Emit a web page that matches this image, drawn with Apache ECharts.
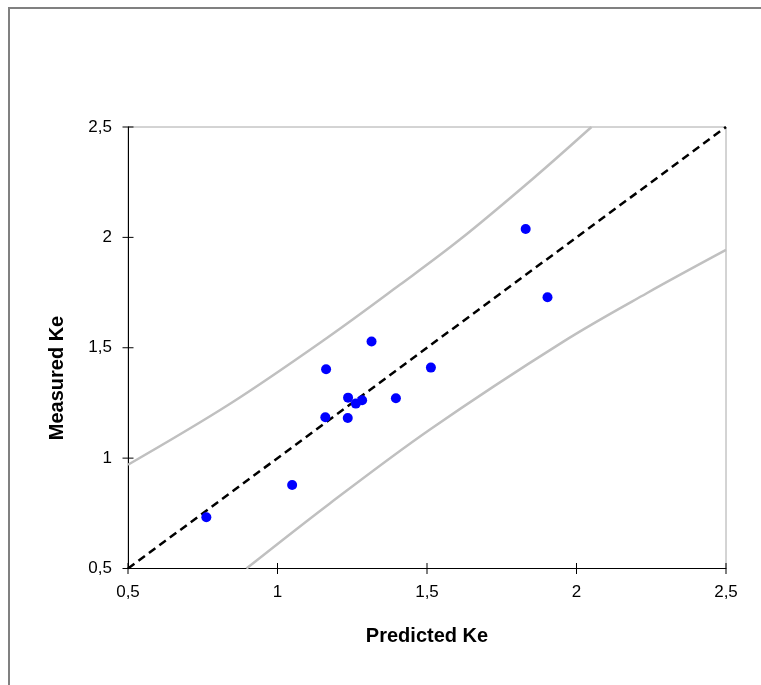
<!DOCTYPE html>
<html>
<head>
<meta charset="utf-8">
<title>Predicted vs measured Ke</title>
<script src="https://cdn.jsdelivr.net/npm/echarts@6/dist/echarts.min.js"></script>
<style>
  html, body { margin: 0; padding: 0; background: #ffffff; }
  #chart { width: 761px; height: 685px; }
</style>
</head>
<body>
<div id="chart"></div>
<script>
// Observations: predicted Ke (x) against measured Ke (y)
const predictedKe = [0.762, 1.049, 1.160, 1.1625, 1.235, 1.236, 1.262, 1.283, 1.3145, 1.396, 1.513, 1.830, 1.903];
const measuredKe  = [0.732, 0.878, 1.185, 1.403, 1.182, 1.274, 1.247, 1.262, 1.528, 1.271, 1.410, 2.038, 1.729];

// Line of equality
const equalityX = [0.5, 2.5];
const equalityY = [0.5, 2.5];

// Upper and lower prediction limits
const upperX = [0.5, 0.84, 1.164, 1.409, 1.61, 1.856, 2.05];
const upperY = [0.97, 1.245, 1.543, 1.785, 1.99, 2.268, 2.5];
const lowerX = [0.896, 1.175, 1.51, 1.956, 2.235, 2.5];
const lowerY = [0.5, 0.795, 1.13, 1.528, 1.747, 1.943];

// Axis ticks and their labels (decimal comma)
const tickValues = [0.5, 1, 1.5, 2, 2.5];
const tickLabels = ['0,5', '1', '1,5', '2', '2,5'];

const axisTitleX = 'Predicted Ke';
const axisTitleY = 'Measured Ke';

const pairs = (xs, ys) => xs.map((x, i) => [x, ys[i]]);
const fmt = v => {
  const i = tickValues.findIndex(t => Math.abs(t - v) < 1e-9);
  return i >= 0 ? tickLabels[i] : '';
};

const FONT = '"Liberation Sans", Arial, sans-serif';
const LABEL_SIZE = 17;
const TITLE_SIZE = 20;
const axisMin = tickValues[0], axisMax = tickValues[tickValues.length - 1], step = 0.5;

const baseAxis = (extra) => Object.assign({
  type: 'value', min: axisMin, max: axisMax, interval: step,
  axisLine: { show: true, onZero: false, lineStyle: { color: '#000', width: 1 } },
  axisTick: { show: false },
  splitLine: { show: false }
}, extra);

// Cross-style tick marks: short strokes centred on each axis line at every tick value
const xTickMarks = tickValues.map(v => [v, axisMin]);
const yTickMarks = tickValues.map(v => [axisMin, v]);

const chart = echarts.init(document.getElementById('chart'), null, { renderer: 'canvas' });

chart.setOption({
  backgroundColor: '#ffffff',
  animation: false,
  tooltip: { show: false },
  grid: {
    left: 128, top: 127, width: 598, height: 441.5,
    show: true, borderColor: '#a8a8a8', borderWidth: 1, backgroundColor: 'transparent'
  },
  xAxis: baseAxis({
    position: 'bottom',
    axisLabel: { formatter: fmt, color: '#000', fontFamily: FONT, fontSize: LABEL_SIZE, margin: 15 },
    name: axisTitleX, nameLocation: 'middle', nameGap: 58,
    nameTextStyle: { color: '#000', fontFamily: FONT, fontSize: TITLE_SIZE, fontWeight: 'bold' }
  }),
  yAxis: baseAxis({
    position: 'left',
    axisLabel: { formatter: fmt, color: '#000', fontFamily: FONT, fontSize: LABEL_SIZE, margin: 16 }
  }),
  graphic: [
    {
      type: 'rect', silent: true, z: -1,
      shape: { x: 9, y: 8, width: 800, height: 720 },
      style: { fill: 'none', stroke: '#808080', lineWidth: 2 }
    },
    {
      type: 'text', silent: true,
      x: 57, y: 378, rotation: Math.PI / 2,
      style: {
        text: axisTitleY, fill: '#000', font: 'bold ' + TITLE_SIZE + 'px ' + FONT,
        align: 'center', verticalAlign: 'middle'
      }
    }
  ],
  series: [
    {
      name: 'Upper limit', type: 'line', data: pairs(upperX, upperY),
      smooth: 0.35, showSymbol: false, clip: true, z: 1, silent: true,
      lineStyle: { color: '#c0c0c0', width: 2.5 }
    },
    {
      name: 'Lower limit', type: 'line', data: pairs(lowerX, lowerY),
      smooth: 0.35, showSymbol: false, clip: true, z: 1, silent: true,
      lineStyle: { color: '#c0c0c0', width: 2.5 }
    },
    {
      name: '1:1', type: 'line', data: pairs(equalityX, equalityY),
      showSymbol: false, clip: true, z: 2, silent: true,
      lineStyle: { color: '#000', width: 2.5, type: [8, 5] }
    },
    {
      name: 'Ke', type: 'scatter', data: pairs(predictedKe, measuredKe),
      symbol: 'circle', symbolSize: 10, z: 3,
      itemStyle: { color: '#0000ff', opacity: 1 }
    },
    {
      name: 'x ticks', type: 'scatter', data: xTickMarks,
      symbol: 'rect', symbolSize: [1, 11], clip: false, silent: true, z: 4,
      itemStyle: { color: '#000', opacity: 1 }
    },
    {
      name: 'y ticks', type: 'scatter', data: yTickMarks,
      symbol: 'rect', symbolSize: [11, 1], clip: false, silent: true, z: 4,
      itemStyle: { color: '#000', opacity: 1 }
    }
  ]
});
</script>
</body>
</html>
